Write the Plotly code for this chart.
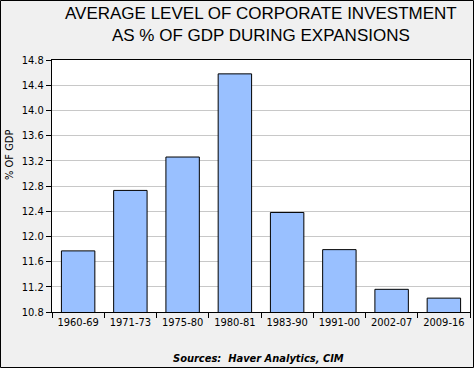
import plotly.graph_objects as go

categories = ["1960-69", "1971-73", "1975-80", "1980-81", "1983-90", "1991-00", "2002-07", "2009-16"]
values = [11.77, 12.73, 13.26, 14.58, 12.38, 11.79, 11.16, 11.02]
y_ticks = [10.8, 11.2, 11.6, 12.0, 12.4, 12.8, 13.2, 13.6, 14.0, 14.4, 14.8]

W, H = 474, 368
L, R, T, B = 52, 4, 60, 56
pw, ph = W - L - R, H - T - B

TICKFONT = "DejaVu Sans Condensed, Tahoma, sans-serif"

fig = go.Figure(go.Bar(
    x=categories, y=values,
    marker=dict(color="#99c0ff", line=dict(color="black", width=1)),
    width=0.64,
))

fig.update_layout(
    width=W, height=H,
    margin=dict(l=L, r=R, t=T, b=B),
    paper_bgcolor="#f0f0f0",
    plot_bgcolor="white",
    showlegend=False,
    font=dict(family="Liberation Sans, Arial, sans-serif", color="black"),
    xaxis=dict(
        type="category",
        tickson="boundaries", ticks="outside", ticklen=5, tickcolor="black",
        showline=True, linecolor="black", linewidth=1, mirror=True,
        showgrid=False,
        tickfont=dict(size=11, family=TICKFONT, color="black"),
    ),
    yaxis=dict(
        range=[10.8, 14.8], tickvals=y_ticks, ticktext=[f"{v:.1f}" for v in y_ticks],
        ticks="outside", ticklen=5, tickcolor="black",
        showline=True, linecolor="black", linewidth=1, mirror=True,
        showgrid=True, gridcolor="#c8c8c8", gridwidth=1,
        zeroline=False,
        tickfont=dict(size=11, family=TICKFONT, color="black"),
    ),
    annotations=[
        dict(
            text="AVERAGE LEVEL OF CORPORATE INVESTMENT<br>AS % OF GDP DURING EXPANSIONS",
            xref="paper", yref="paper",
            x=(261 - L) / pw, y=1 + (T - 2) / ph,
            xanchor="center", yanchor="top", showarrow=False,
            font=dict(size=17, family="Liberation Sans, Arial, sans-serif", color="black"),
        ),
        dict(
            text="% OF GDP", textangle=-90,
            xref="paper", yref="paper",
            x=-(L - 9) / pw, y=1 - (155 - T) / ph,
            xanchor="center", yanchor="middle", showarrow=False,
            font=dict(size=11, family=TICKFONT, color="black"),
        ),
        dict(
            text="<b><i>Sources:  Haver Analytics, CIM</i></b>",
            xref="paper", yref="paper",
            x=(258 - L) / pw, y=-(358 - T - ph) / ph,
            xanchor="center", yanchor="middle", showarrow=False,
            font=dict(size=11, family=TICKFONT, color="black"),
        ),
    ],
    shapes=[dict(
        type="rect", xref="paper", yref="paper",
        x0=-(L - 0.5) / pw, x1=1 + (R - 0.5) / pw,
        y0=-(B - 0.5) / ph, y1=1 + (T - 0.5) / ph,
        line=dict(color="black", width=1), layer="above",
    )],
)

fig.write_html(
    "out.html",
    config={"displayModeBar": False},
    post_script="document.body.style.margin='0';document.body.style.overflow='hidden';",
)
